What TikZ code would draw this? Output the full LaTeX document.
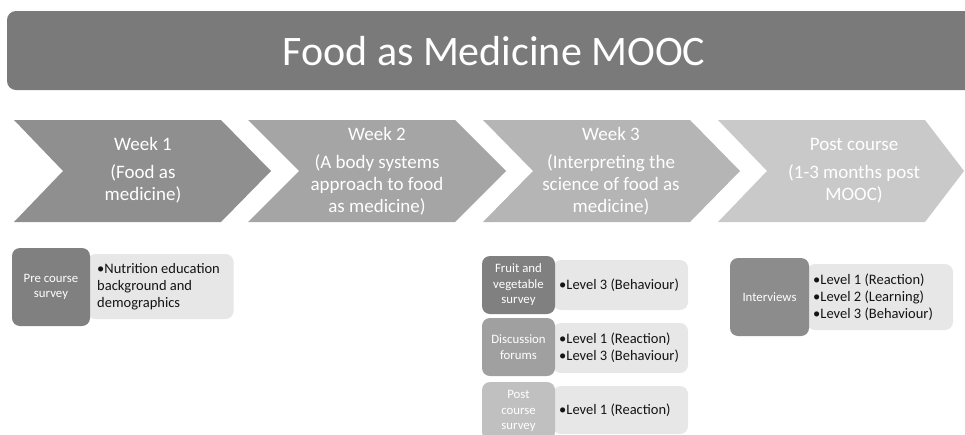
\documentclass[tikz,border=0pt]{standalone}
\usepackage{fontspec}
\setmainfont{Carlito}
\definecolor{titlegray}{RGB}{122,122,122}
\definecolor{wone}{RGB}{143,143,143}
\definecolor{wtwo}{RGB}{165,165,165}
\definecolor{wthree}{RGB}{181,181,181}
\definecolor{wfour}{RGB}{201,201,201}
\definecolor{dkA}{RGB}{128,128,128}
\definecolor{dkB}{RGB}{160,160,160}
\definecolor{dkC}{RGB}{192,192,192}
\definecolor{dkD}{RGB}{140,140,140}
\definecolor{lt}{RGB}{231,231,231}
\definecolor{txt}{RGB}{20,20,20}
\tikzset{
  chevlabel/.style={text=white, align=center, inner sep=0pt, font=\fontsize{19}{22}\selectfont},
  darkbox/.style={rounded corners=8pt, text=white, align=center, inner sep=0pt, font=\fontsize{12.8}{15.5}\selectfont},
  lightbox/.style={fill=lt, rounded corners=8pt, inner sep=0pt},
  itemtext/.style={text=txt, align=left, inner sep=0pt, anchor=west, font=\fontsize{14.5}{16.8}\selectfont},
}
\begin{document}
\begin{tikzpicture}[x=1pt,y=-1pt]
\useasboundingbox (0,0) rectangle (965,434);
\clip (0,0) rectangle (965,434);
% title
\fill[titlegray, rounded corners=9pt] (7,11) rectangle (995,90);
\node[text=white, inner sep=0pt, font=\fontsize{42}{48}\selectfont] (title) at (494,51) {Food as Medicine MOOC};
% chevrons
\fill[wone] (14,120) -- (221,120) -- (271,171) -- (221,222) -- (14,222) -- (63,171) -- cycle;
\fill[wtwo] (248,120) -- (455,120) -- (506,171) -- (455,222) -- (248,222) -- (299,171) -- cycle;
\fill[wthree] (483,120) -- (690,120) -- (740,171) -- (690,222) -- (483,222) -- (533,171) -- cycle;
\fill[wfour] (718,120) -- (925,120) -- (964,171) -- (925,222) -- (718,222) -- (767,171) -- cycle;
\node[chevlabel] (w1) at (143,170) {Week 1\\[6pt](Food as\\medicine)};
\node[chevlabel] (w2) at (377,171) {Week 2\\[6pt](A body systems\\approach to food\\as medicine)};
\node[chevlabel] (w3) at (611,171) {Week 3\\[6pt](Interpreting the\\science of food as\\medicine)};
\node[chevlabel] (w4) at (854,171) {Post course\\[6pt](1-3 months post\\MOOC)};
% pre course survey
\node[lightbox, minimum width=146pt, minimum height=65pt] (preL) at (160.5,286.5) {};
\node[darkbox, fill=dkA, minimum width=78pt, minimum height=78pt] (pre) at (51,287) {Pre course\\survey};
\node[itemtext] (preT) at (97,287) {\textbullet Nutrition education\\background and\\demographics};
% fruit and vegetable survey
\node[lightbox, minimum width=135pt, minimum height=50pt] (fvL) at (620.5,285) {};
\node[darkbox, fill=dkA, minimum width=73pt, minimum height=58pt] (fv) at (518.5,285) {Fruit and\\vegetable\\survey};
\node[itemtext] (fvT) at (559,285) {\textbullet Level 3 (Behaviour)};
% discussion forums
\node[lightbox, minimum width=135pt, minimum height=50pt] (dfL) at (620.5,348) {};
\node[darkbox, fill=dkB, minimum width=73pt, minimum height=58pt] (df) at (518.5,347) {Discussion\\forums};
\node[itemtext] (dfT) at (559,348) {\textbullet Level 1 (Reaction)\\\textbullet Level 3 (Behaviour)};
% post course survey
\node[lightbox, minimum width=135pt, minimum height=48pt] (psL) at (620.5,410) {};
\node[darkbox, fill=dkC, minimum width=73pt, minimum height=58pt] (ps) at (518.5,411) {Post\\course\\survey};
\node[itemtext] (psT) at (559,410) {\textbullet Level 1 (Reaction)};
% interviews
\node[lightbox, minimum width=146pt, minimum height=66pt] (ivL) at (880,297) {};
\node[darkbox, fill=dkD, minimum width=79pt, minimum height=78pt] (iv) at (769.5,297) {Interviews};
\node[itemtext] (ivT) at (813,297) {\textbullet Level 1 (Reaction)\\\textbullet Level 2 (Learning)\\\textbullet Level 3 (Behaviour)};
\end{tikzpicture}
\end{document}
